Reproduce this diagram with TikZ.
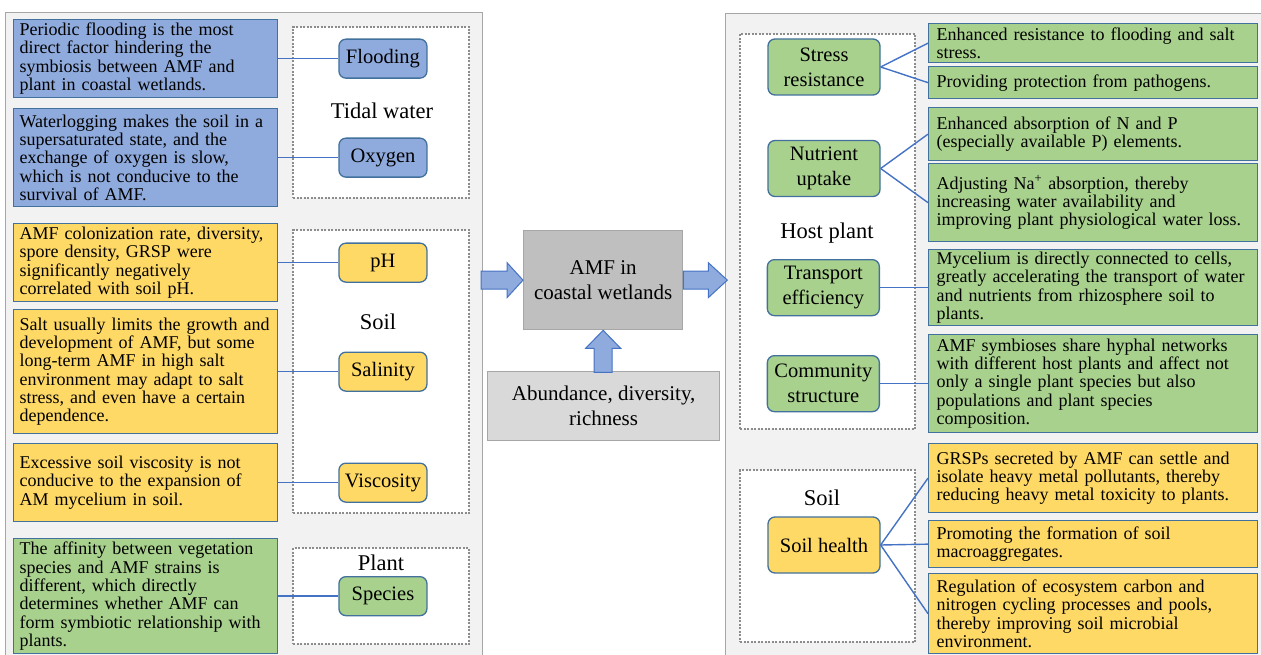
\documentclass[tikz,border=0pt]{standalone}
\usepackage{fontspec}
\setmainfont{Liberation Serif}
\usepackage{tikz}
\usetikzlibrary{positioning,calc}
\definecolor{WetBlue}{HTML}{8FAADC}
\definecolor{WetYellow}{HTML}{FFD966}
\definecolor{WetGreen}{HTML}{A9D18E}
\definecolor{WetLine}{HTML}{41719C}
\definecolor{WetLink}{HTML}{4472C4}
\definecolor{WetPanel}{HTML}{F2F2F2}
\definecolor{WetFrame}{HTML}{A6A6A6}
\definecolor{WetCore}{HTML}{BFBFBF}
\definecolor{WetBase}{HTML}{D9D9D9}
\definecolor{WetDots}{HTML}{8C8C8C}
\newcommand{\notefont}{\fontsize{18}{18.3}\selectfont}
\newcommand{\factorfont}{\fontsize{20.5}{25}\selectfont}
\newcommand{\groupfont}{\fontsize{22.5}{27}\selectfont}
\newcommand{\corefont}{\fontsize{21}{25}\selectfont}
\tikzset{
  panel/.style={draw=WetFrame, line width=1.3pt, fill=WetPanel, anchor=north west, inner sep=0pt},
  group/.style={draw=WetDots, line width=2pt, dash pattern=on 2pt off 1.5pt, fill=white,
    anchor=north west, inner sep=0pt},
  grouplabel/.style={font=\groupfont, inner sep=0pt},
  factor/.style={draw=WetLine, line width=1.3pt, rounded corners=7pt, font=\factorfont,
    align=center, minimum width=88pt, minimum height=39pt, inner sep=1pt},
  role/.style={factor, minimum width=112pt, minimum height=56pt},
  leftnote/.style={draw=WetLine, line width=1.3pt, font=\notefont, align=left,
    anchor=north west, text width=252pt, inner xsep=6pt, inner ysep=1pt},
  rightnote/.style={leftnote, text width=313pt, inner xsep=8pt},
  core/.style={draw=WetFrame, line width=1.3pt, font=\corefont, align=center,
    anchor=north west, inner sep=0pt},
  link/.style={draw=WetLink, line width=1.4pt},
  bigarrow/.style={fill=WetBlue, draw=WetLink, line width=1pt}
}

\begin{document}
\begin{tikzpicture}[x=1pt, y=-1pt]
  \useasboundingbox (0,0) rectangle (1261,655);
  \clip (0,0) rectangle (1261,655);
  \node[panel, minimum width=477pt, minimum height=650pt] (leftpanel) at (5,12) {};
  \node[panel, minimum width=545pt, minimum height=650pt] (rightpanel) at (725,13) {};

  \node[group, minimum width=176pt, minimum height=171pt] (tidal) at (292,26) {};
  \node[group, minimum width=176pt, minimum height=283pt] (soil) at (292,229) {};
  \node[group, minimum width=176pt, minimum height=96pt] (plant) at (292,547) {};
  \node[group, minimum width=175pt, minimum height=395pt] (host) at (739,33) {};
  \node[group, minimum width=175pt, minimum height=172pt] (soilright) at (739,469) {};
  \node[grouplabel] (tidallabel) at (382,111) {Tidal water};
  \node[grouplabel] (soillabel) at (378,322) {Soil};
  \node[grouplabel] (plantlabel) at (381,563) {Plant};
  \node[grouplabel] (hostlabel) at (827,233) {Host plant};
  \node[grouplabel] (soilrightlabel) at (822,498) {Soil};

  \node[leftnote, fill=WetBlue, minimum height=78pt] (floodnote) at (13,19)
    {Periodic flooding is the most\\direct factor hindering the\\symbiosis between AMF and\\plant in coastal wetlands.};
  \node[leftnote, fill=WetBlue, minimum height=98pt] (oxygennote) at (13,108)
    {Waterlogging makes the soil in a\\supersaturated state, and the\\exchange of oxygen is slow,\\which is not conducive to the\\survival of AMF.};
  \node[leftnote, fill=WetYellow, minimum height=78pt] (phnote) at (13,223)
    {AMF colonization rate, diversity,\\spore density, GRSP were\\significantly negatively\\correlated with soil pH.};
  \node[leftnote, fill=WetYellow, minimum height=124pt] (salinitynote) at (13,309)
    {Salt usually limits the growth and\\development of AMF, but some\\long-term AMF in high salt\\environment may adapt to salt\\stress, and even have a certain\\dependence.};
  \node[leftnote, fill=WetYellow, minimum height=78pt] (viscositynote) at (13,443)
    {Excessive soil viscosity is not\\conducive to the expansion of\\AM mycelium in soil.};
  \node[leftnote, fill=WetGreen, minimum height=115pt] (speciesnote) at (13,538)
    {The affinity between vegetation\\species and AMF strains is\\different, which directly\\determines whether AMF can\\form symbiotic relationship with\\plants.};

  \node[factor, fill=WetBlue, right=60pt of floodnote] (flooding) {Flooding};
  \node[factor, fill=WetBlue, right=60pt of oxygennote] (oxygen) {Oxygen};
  \node[factor, fill=WetYellow, right=60pt of phnote] (ph) {pH};
  \node[factor, fill=WetYellow, right=60pt of salinitynote] (salinity) {Salinity};
  \node[factor, fill=WetYellow, right=60pt of viscositynote] (viscosity) {Viscosity};
  \node[factor, fill=WetGreen, right=60pt of speciesnote] (species) {Species};

  \node[core, fill=WetCore, minimum width=159pt, minimum height=99pt] (amf) at (523,230)
    {AMF in\\coastal wetlands};
  \node[core, fill=WetBase, minimum width=232pt, minimum height=69pt] (abundance) at (487,371)
    {Abundance, diversity,\\richness};

  \node[rightnote, fill=WetGreen, minimum height=39pt] (resistnote) at (928,23)
    {Enhanced resistance to flooding and salt\\stress.};
  \node[rightnote, fill=WetGreen, minimum height=32pt] (pathogennote) at (928,66)
    {Providing protection from pathogens.};
  \node[rightnote, fill=WetGreen, minimum height=53pt] (absorbnote) at (928,107)
    {Enhanced absorption of N and P\\(especially available P) elements.};
  \node[rightnote, fill=WetGreen, minimum height=78pt] (sodiumnote) at (928,163)
    {Adjusting Na\textsuperscript{+} absorption, thereby\\increasing water availability and\\improving plant physiological water loss.};
  \node[rightnote, fill=WetGreen, minimum height=76pt] (transportnote) at (928,249)
    {Mycelium is directly connected to cells,\\greatly accelerating the transport of water\\and nutrients from rhizosphere soil to\\plants.};
  \node[rightnote, fill=WetGreen, minimum height=98pt] (communitynote) at (928,334)
    {AMF symbioses share hyphal networks\\with different host plants and affect not\\only a single plant species but also\\populations and plant species\\composition.};
  \node[rightnote, fill=WetYellow, minimum height=69pt] (metalnote) at (928,443)
    {GRSPs secreted by AMF can settle and\\isolate heavy metal pollutants, thereby\\reducing heavy metal toxicity to plants.};
  \node[rightnote, fill=WetYellow, minimum height=47pt] (aggregatenote) at (928,520)
    {Promoting the formation of soil\\macroaggregates.};
  \node[rightnote, fill=WetYellow, minimum height=80pt] (cyclenote) at (928,573)
    {Regulation of ecosystem carbon and\\nitrogen cycling processes and pools,\\thereby improving soil microbial\\environment.};

  \node[role, fill=WetGreen] (stress) at (824,67) {Stress\\resistance};
  \node[role, fill=WetGreen] (nutrient) at (824,168.5) {Nutrient\\uptake};
  \node[role, fill=WetGreen, left=48pt of transportnote] (transport) {Transport\\efficiency};
  \node[role, fill=WetGreen, left=48pt of communitynote] (community) {Community\\structure};
  \node[role, fill=WetYellow] (soilhealth) at (824,545) {Soil health};

  \draw[link] (floodnote) -- (flooding);
  \draw[link] (oxygennote) -- (oxygen);
  \draw[link] (phnote) -- (ph);
  \draw[link] (salinitynote) -- (salinity);
  \draw[link] (viscositynote) -- (viscosity);
  \draw[link] (speciesnote) -- (species);
  \draw[link] (stress.east) -- (resistnote.west);
  \draw[link] (stress.east) -- (pathogennote.west);
  \draw[link] (nutrient.east) -- (absorbnote.west);
  \draw[link] (nutrient.east) -- (sodiumnote.west);
  \draw[link] (transport) -- (transportnote);
  \draw[link] (community) -- (communitynote);
  \draw[link] (soilhealth.east) -- (metalnote.west);
  \draw[link] (soilhealth.east) -- (aggregatenote.west);
  \draw[link] (soilhealth.east) -- (cyclenote.west);

  \filldraw[bigarrow, shift={(amf.west)}] (0,0) -- (-16,-17.5) -- (-16,-9) -- (-42,-9)
    -- (-42,9) -- (-16,9) -- (-16,17.5) -- cycle;
  \filldraw[bigarrow, shift={(amf.east)}] (0,-9) -- (25,-9) -- (25,-17.5) -- (44,0)
    -- (25,17.5) -- (25,9) -- (0,9) -- cycle;
  \filldraw[bigarrow, shift={(amf.south)}] (0,0) -- (17.5,18) -- (9,18) -- (9,42)
    -- (-9,42) -- (-9,18) -- (-17.5,18) -- cycle;
\end{tikzpicture}
\end{document}
